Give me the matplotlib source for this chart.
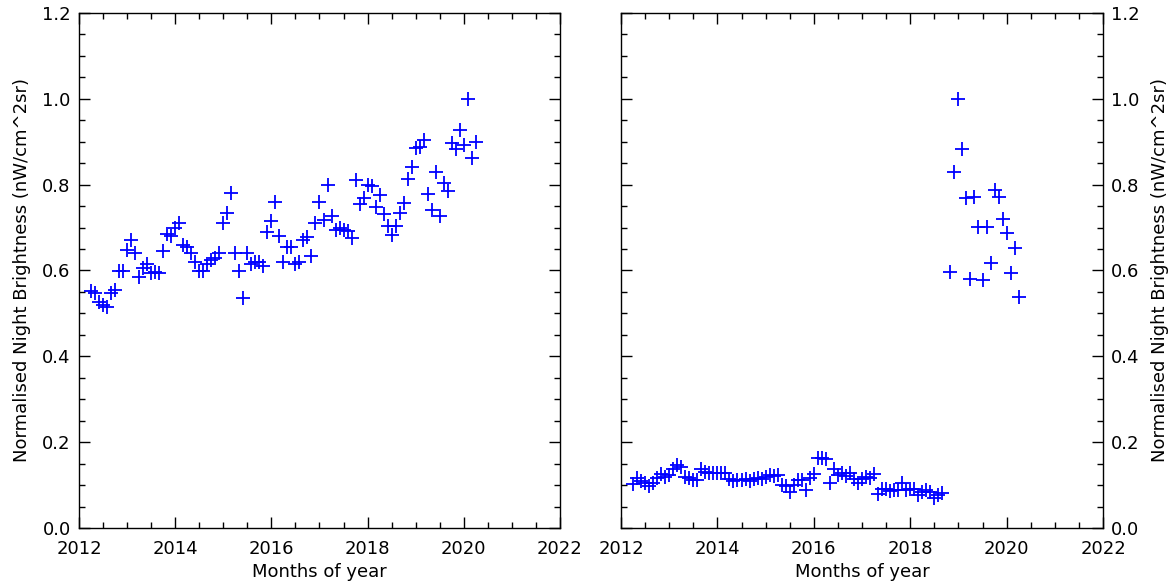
import numpy as np
import pandas as pd
import matplotlib
matplotlib.use("Agg")
import matplotlib.pyplot as plt
from matplotlib.ticker import MultipleLocator, FormatStrFormatter

plt.rcParams["font.family"] = ["DejaVu Sans"]

# monthly samples, left panel (Apr 2012 - Apr 2020)
left_start, left_end = "2012-04", "2020-04"
left_vals = [
    0.553, 0.547, 0.527, 0.519, 0.515, 0.547, 0.555, 0.600, 0.600,
    0.648, 0.672, 0.640, 0.585, 0.605, 0.615, 0.595, 0.597, 0.595, 0.645, 0.685, 0.680,
    0.700, 0.710, 0.660, 0.655, 0.640, 0.620, 0.600, 0.600, 0.615, 0.625, 0.630, 0.640,
    0.710, 0.735, 0.780, 0.640, 0.600, 0.535, 0.640, 0.615, 0.620, 0.620, 0.610, 0.690,
    0.715, 0.760, 0.680, 0.620, 0.655, 0.655, 0.615, 0.620, 0.672, 0.677, 0.633, 0.710,
    0.760, 0.718, 0.800, 0.726, 0.695, 0.699, 0.695, 0.691, 0.675, 0.811, 0.755, 0.770,
    0.799, 0.797, 0.749, 0.776, 0.732, 0.703, 0.683, 0.703, 0.735, 0.758, 0.813, 0.841,
    0.886, 0.887, 0.903, 0.779, 0.741, 0.829, 0.726, 0.803, 0.786, 0.898, 0.882, 0.928,
    0.893, 1.000, 0.862, 0.900,
]

# right panel, low part (Apr 2012 - Sep 2018)
right_low_start, right_low_end = "2012-04", "2018-09"
right_low_vals = [
    0.102, 0.116, 0.109, 0.105, 0.097, 0.105, 0.116, 0.126, 0.120, 0.123,
    0.137, 0.147, 0.143, 0.118, 0.116, 0.113, 0.113, 0.137, 0.131, 0.128,
    0.128, 0.129, 0.128, 0.128, 0.114, 0.109, 0.111, 0.111, 0.114, 0.109,
    0.114, 0.116, 0.114, 0.118, 0.123, 0.121, 0.123, 0.100, 0.097, 0.085,
    0.100, 0.111, 0.113, 0.089, 0.116, 0.126, 0.162, 0.162, 0.160, 0.106,
    0.137, 0.123, 0.128, 0.121, 0.128, 0.114, 0.106, 0.114, 0.118, 0.116,
    0.126, 0.080, 0.092, 0.092, 0.086, 0.089, 0.089, 0.105, 0.089, 0.092,
    0.090, 0.078, 0.085, 0.089, 0.083, 0.070, 0.078, 0.081,
]

# right panel, high part (Nov 2018 - Apr 2020)
right_high_start, right_high_end = "2018-11", "2020-04"
right_high_vals = [
    0.597, 0.829, 1.000, 0.883, 0.768, 0.580, 0.772, 0.702, 0.578,
    0.702, 0.617, 0.788, 0.772, 0.719, 0.687, 0.595, 0.652, 0.539,
]

YLABEL = "Normalised Night Brightness (nW/cm^2sr)"
XLABEL = "Months of year"


def month_axis(start, end):
    m = pd.period_range(start, end, freq="M")
    return np.asarray(m.year + (m.month - 1) / 12.0)


def style_axis(ax):
    ax.set_xlim(2012, 2022)
    ax.set_ylim(0, 1.2)
    ax.xaxis.set_major_locator(MultipleLocator(2))
    ax.xaxis.set_minor_locator(MultipleLocator(0.5))
    ax.yaxis.set_major_locator(MultipleLocator(0.2))
    ax.yaxis.set_minor_locator(MultipleLocator(0.05))
    ax.yaxis.set_major_formatter(FormatStrFormatter("%.1f"))
    ax.tick_params(which="both", direction="in", top=True, bottom=True,
                   left=True, right=True, width=1.0, labelsize=13)
    ax.tick_params(which="major", length=8, pad=9)
    ax.tick_params(which="minor", length=4)
    ax.tick_params(axis="y", which="major", pad=6)
    for s in ax.spines.values():
        s.set_linewidth(1.0)
    ax.set_xlabel(XLABEL, fontsize=13, labelpad=3)
    ax.set_ylabel(YLABEL, fontsize=13, labelpad=8)


fig = plt.figure(figsize=(11.68, 5.81), dpi=100)
ax1 = fig.add_axes([79 / 1168, 53 / 581, 481 / 1168, 515 / 581])
ax2 = fig.add_axes([621 / 1168, 53 / 581, 482 / 1168, 515 / 581])

mk = dict(linestyle="none", marker="+", markersize=10, markeredgewidth=1.3, color="blue")

x = month_axis(left_start, left_end)
assert len(x) == len(left_vals)
ax1.plot(x, left_vals, **mk)

x = month_axis(right_low_start, right_low_end)
assert len(x) == len(right_low_vals)
ax2.plot(x, right_low_vals, **mk)
x = month_axis(right_high_start, right_high_end)
assert len(x) == len(right_high_vals)
ax2.plot(x, right_high_vals, **mk)

style_axis(ax1)
style_axis(ax2)
ax2.tick_params(axis="y", labelleft=False, labelright=True)
ax2.yaxis.set_label_position("right")

fig.savefig("out.png", dpi=100)
